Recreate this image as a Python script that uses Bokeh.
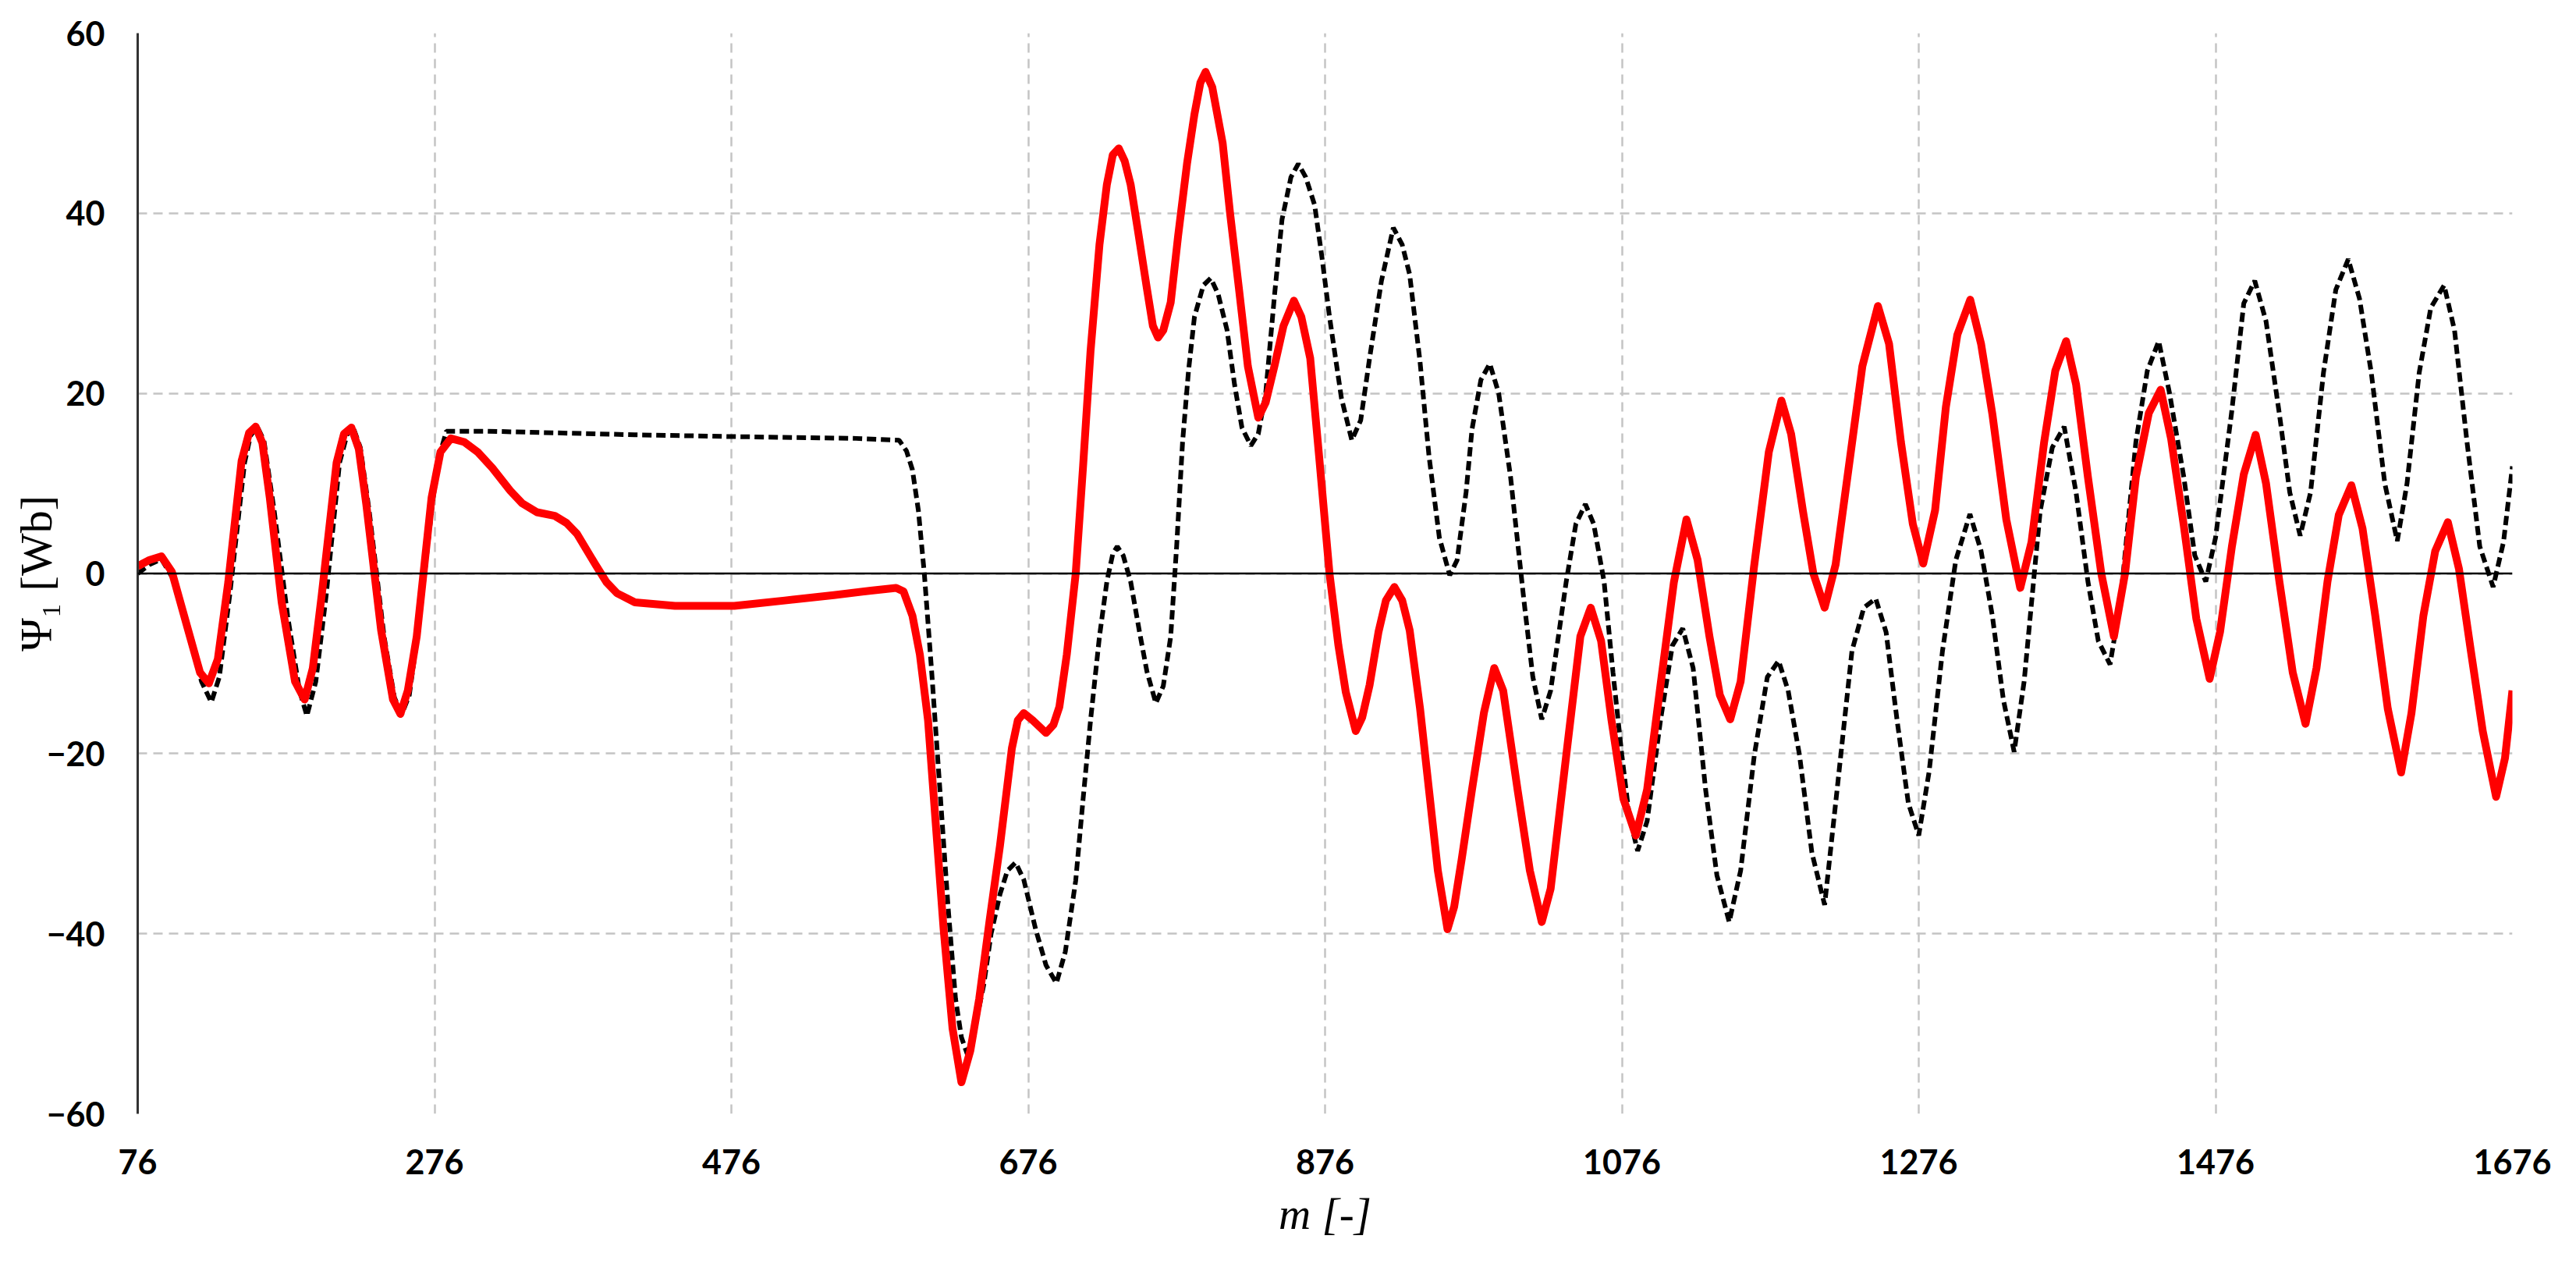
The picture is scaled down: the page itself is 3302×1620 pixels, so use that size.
from bokeh.plotting import figure
from bokeh.models import FixedTicker, Span
from bokeh.embed import file_html
from bokeh.resources import INLINE

# m [-] and Psi_1 [Wb]
m_red = [76, 84, 92, 99, 110, 118, 124, 130, 137, 146, 151, 155.5, 160, 165, 173, 182, 188.5, 194, 200,
         210, 215, 220, 225, 230, 240, 248, 253, 258, 264, 274, 280, 287, 296, 305, 315, 327, 335, 345,
         357, 365, 372, 384, 392, 399, 411, 438, 478, 512, 545, 570, 587, 592, 598, 603, 608.5, 619, 625,
         631, 637, 643, 650, 657, 665, 669, 673, 679, 688, 693, 697, 702, 708, 713, 718, 724, 729, 733,
         737, 741, 745, 750, 756, 760, 763.5, 767, 772, 777, 783, 788, 792, 795.5, 800, 807, 812, 818,
         824, 831, 836, 842, 848, 855, 860, 866, 872, 879, 885, 890, 896.7, 901, 906, 912, 917, 922.7,
         928, 933, 940, 946, 952, 958.5, 963, 968, 975, 983, 990, 996, 1005.7, 1014, 1022, 1028, 1038.5,
         1048, 1055, 1062, 1069, 1077, 1085.4, 1093, 1102, 1111, 1119.5, 1127, 1135, 1142, 1149, 1156,
         1165, 1175, 1183.5, 1190, 1198, 1205, 1212.6, 1220, 1228.6, 1238, 1248.5, 1256, 1264, 1272,
         1279, 1287, 1294.3, 1302, 1310.7, 1318, 1325.6, 1335, 1344.4, 1352, 1360.5, 1368, 1375.3, 1382,
         1390, 1399, 1407.5, 1415, 1422.3, 1431, 1439, 1446, 1454.6, 1463, 1472, 1479, 1487, 1495, 1503,
         1510, 1519, 1528, 1536.6, 1544, 1551.4, 1559, 1567.5, 1575, 1583.6, 1592, 1601, 1608, 1616,
         1624, 1632.5, 1640, 1648, 1656, 1665, 1671, 1676]
psi_red = [0.8, 1.5, 1.9, 0.2, -6.3, -11.0, -12.2, -9.5, -1.0, 12.5, 15.6, 16.3, 14.5, 8.4, -3.2, -12.0,
           -14.0, -10.5, -2.4, 12.3, 15.5, 16.2, 13.8, 7.7, -6.3, -14.0, -15.6, -13.0, -7.0, 8.4, 13.5,
           15.0, 14.6, 13.5, 11.7, 9.2, 7.8, 6.8, 6.4, 5.6, 4.4, 1.1, -1.0, -2.2, -3.2, -3.6, -3.6, -3.0,
           -2.4, -1.9, -1.6, -2.0, -4.7, -9.0, -16.3, -39.5, -50.5, -56.5, -53.0, -47.2, -38.5, -30.2,
           -19.4, -16.3, -15.5, -16.3, -17.7, -16.8, -14.8, -9.0, 0.0, 12.0, 24.7, 36.5, 43.2, 46.5, 47.2,
           45.8, 43.2, 38.0, 31.6, 27.5, 26.2, 27.0, 30.1, 37.5, 45.5, 51.0, 54.5, 55.7, 54.0, 47.8, 40.0,
           31.6, 23.0, 17.3, 19.0, 23.1, 27.5, 30.3, 28.5, 23.9, 13.0, 0.0, -8.0, -13.2, -17.5, -16.0,
           -12.4, -6.5, -3.0, -1.5, -3.0, -6.3, -15.0, -24.0, -33.0, -39.5, -37.0, -31.8, -24.0, -15.5,
           -10.5, -13.0, -24.0, -33.0, -38.7, -35.0, -20.2, -7.0, -3.8, -7.5, -16.3, -25.0, -29.1, -24.0,
           -12.4, -1.0, 6.0, 1.5, -7.0, -13.5, -16.2, -12.0, 0.7, 13.5, 19.2, 15.5, 6.9, 0.0, -3.8, 1.0,
           11.5, 23.0, 29.7, 25.5, 14.6, 5.5, 1.1, 7.0, 18.5, 26.5, 30.4, 25.5, 17.7, 6.0, -1.6, 3.5, 14.6,
           22.5, 25.8, 21.0, 10.7, 0.0, -7.0, 0.0, 10.7, 17.8, 20.4, 15.0, 5.3, -5.0, -11.7, -6.5, 3.0,
           11.0, 15.4, 10.0, -0.9, -11.0, -16.7, -10.5, -0.9, 6.5, 9.8, 5.0, -4.7, -15.0, -22.1, -15.5,
           -4.7, 2.5, 5.7, 0.5, -8.6, -17.5, -24.8, -20.5, -13.0]

m_black = [76, 84, 92, 101, 111, 119, 125.6, 131, 138, 148, 152, 156.5, 161, 168, 177, 185, 190, 196, 203,
           212, 217, 221, 226, 232, 242, 249, 254, 259, 265, 275, 280, 284, 311, 411, 478, 560, 589, 594,
           598, 602, 606, 611, 616.5, 622, 627, 631, 635, 640, 646, 651, 657, 662, 667.5, 673, 681, 688,
           695, 701, 708, 713, 718, 724, 729, 733, 736, 740, 745, 751, 756, 762, 767, 772, 776, 780, 784,
           788, 794, 799, 804, 810, 815, 820, 826, 831, 836, 842, 847, 853, 858, 863, 869, 874, 879, 887,
           894, 900, 906, 914, 922, 928, 933, 940, 946, 953, 960, 965, 971, 975, 981, 987, 993, 1001, 1010,
           1016, 1022, 1028, 1038.5, 1045, 1051.4, 1057, 1064, 1070, 1076, 1081, 1086.6, 1093, 1102, 1110,
           1117, 1124, 1132.4, 1140, 1148.3, 1156, 1165.2, 1174, 1181.6, 1188, 1195.7, 1204, 1212.6, 1221,
           1231, 1239, 1247, 1254, 1261.4, 1269, 1276, 1283, 1292, 1301, 1310.5, 1318, 1325.6, 1333,
           1340.3, 1347, 1357.8, 1366, 1374, 1382, 1390, 1397, 1404.9, 1412, 1422.3, 1430, 1437.7, 1445,
           1454.6, 1462, 1469.4, 1476, 1486.9, 1495, 1502.4, 1510, 1519, 1526, 1533, 1540, 1548.7, 1557,
           1565.4, 1573, 1580.9, 1590, 1598.4, 1605, 1613.2, 1621, 1630, 1637, 1645.4, 1654, 1663, 1670,
           1676]
psi_black = [0.0, 1.0, 1.6, -0.9, -7.0, -12.0, -14.3, -11.5, -2.4, 12.3, 15.3, 16.3, 14.8, 6.9, -4.7,
             -13.0, -15.8, -12.0, -2.4, 12.3, 15.4, 16.3, 14.0, 6.9, -7.0, -13.8, -15.6, -13.5, -6.3, 8.4,
             13.5, 15.8, 15.8, 15.4, 15.2, 15.0, 14.8, 13.6, 11.5, 7.0, 0.0, -11.0, -24.0, -37.0, -47.2,
             -51.5, -53.4, -50.5, -45.7, -40.0, -35.6, -33.0, -32.1, -34.0, -39.5, -43.5, -45.5, -42.0,
             -34.1, -25.0, -16.3, -7.0, -0.9, 2.2, 3.0, 2.0, -0.9, -6.5, -10.9, -14.4, -12.5, -7.0, 3.0,
             14.6, 22.5, 28.5, 32.0, 32.8, 31.0, 27.0, 21.0, 16.2, 14.2, 15.5, 20.0, 31.0, 39.3, 44.0, 45.5,
             44.0, 40.9, 35.0, 28.5, 19.5, 14.8, 17.0, 23.9, 32.5, 38.4, 36.5, 33.2, 23.5, 13.1, 4.0, -0.2,
             1.5, 9.0, 16.0, 21.5, 23.3, 20.0, 10.7, -3.0, -11.5, -16.2, -13.0, -0.9, 5.5, 7.7, 5.5, -0.9,
             -11.0, -20.2, -27.0, -30.8, -27.5, -16.3, -8.0, -6.1, -10.5, -24.0, -33.5, -38.7, -33.0, -20.2,
             -11.5, -9.7, -13.0, -20.2, -31.0, -36.8, -24.0, -8.6, -3.8, -2.8, -6.5, -16.3, -25.5, -29.1,
             -22.0, -8.6, 1.5, 6.6, 2.5, -4.7, -14.0, -19.8, -12.0, 6.9, 14.0, 16.3, 9.0, -0.9, -7.5, -10.1,
             -3.0, 14.6, 22.5, 25.8, 20.0, 10.7, 2.0, -0.9, 4.0, 18.0, 30.0, 32.5, 28.0, 17.7, 9.0, 4.2, 9.0,
             22.3, 31.5, 34.9, 30.5, 22.3, 10.0, 3.6, 10.0, 22.3, 29.5, 32.0, 27.0, 14.6, 3.0, -1.5, 3.5,
             11.9]

x_ticks = [76, 276, 476, 676, 876, 1076, 1276, 1476, 1676]
y_ticks = [-60, -40, -20, 0, 20, 40, 60]
y_labels = ["\u221260", "\u221240", "\u221220", "0", "20", "40", "60"]

p = figure(width=3286, height=1604, x_range=(76, 1676), y_range=(-60, 60),
           output_backend="svg", toolbar_location=None,
           min_border_left=176, min_border_right=66, min_border_top=42, min_border_bottom=177)
p.outline_line_color = None
p.background_fill_color = "white"

p.xaxis.ticker = FixedTicker(ticks=x_ticks)
p.yaxis.ticker = FixedTicker(ticks=y_ticks)
p.yaxis.major_label_overrides = {t: s for t, s in zip(y_ticks, y_labels)}

for ax in (p.xaxis, p.yaxis):
    ax.major_tick_in = 0
    ax.major_tick_out = 0
    ax.minor_tick_in = 0
    ax.minor_tick_out = 0
    ax.major_label_text_font = "Lato"
    ax.major_label_text_font_style = "bold"
    ax.major_label_text_font_size = "43px"
    ax.major_label_text_color = "black"
    ax.axis_label_text_font = "Liberation Serif"
    ax.axis_label_text_color = "black"

p.xaxis.axis_line_color = None
p.xaxis.major_label_standoff = 45
p.xaxis.axis_label = "m [-]"
p.xaxis.axis_label_text_font_style = "italic"
p.xaxis.axis_label_text_font_size = "57px"
p.xaxis.axis_label_standoff = 16

p.yaxis.axis_line_color = "#333333"
p.yaxis.axis_line_width = 3
p.yaxis.major_label_standoff = 42
p.yaxis.axis_label = "\u03a8\u2081 [Wb]"
p.yaxis.axis_label_text_font_style = "normal"
p.yaxis.axis_label_text_font_size = "58px"
p.yaxis.axis_label_standoff = -22

p.grid.grid_line_color = "#c4c4c4"
p.grid.grid_line_width = 2.5
p.grid.grid_line_dash = "12 8"

p.add_layout(Span(location=0, dimension="width", line_color="black", line_width=2.5))

p.line(m_black, psi_black, line_color="black", line_width=6, line_dash="12 6")
p.line(m_red, psi_red, line_color="#ff0000", line_width=10, line_join="round")

open("out.html", "w").write(file_html(p, INLINE))
